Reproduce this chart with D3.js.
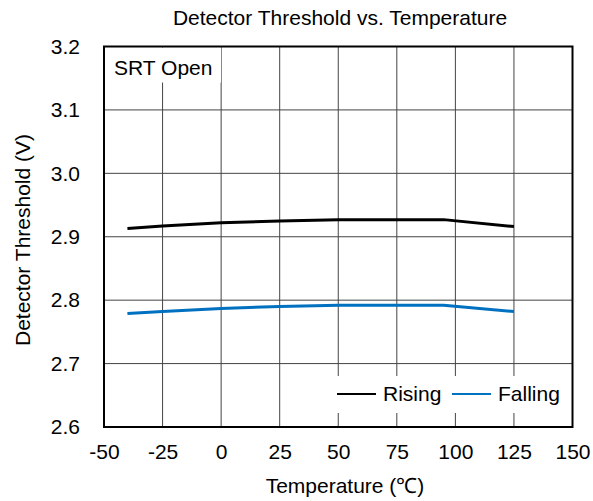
<!DOCTYPE html>
<html>
<head>
<meta charset="utf-8">
<script src="https://cdn.jsdelivr.net/npm/d3@7"></script>
<style>
  body { margin: 0; background: #fff; }
  text { font-family: "Liberation Sans", Arial, sans-serif; fill: #000; }
</style>
</head>
<body>
<svg id="chart" width="593" height="501"></svg>
<script>
const width = 593;
const height = 501;
const margin = { top: 46.5, right: 20.5, bottom: 74, left: 104 };
const fontSize = "21px";

// data
const temps = [-40, -25, 0, 25, 50, 75, 95, 125];
const rising = [2.913, 2.917, 2.922, 2.925, 2.927, 2.927, 2.927, 2.916];
const falling = [2.779, 2.782, 2.787, 2.790, 2.792, 2.792, 2.792, 2.782];
const xTicks = [-50, -25, 0, 25, 50, 75, 100, 125, 150];
const yTicks = [2.6, 2.7, 2.8, 2.9, 3.0, 3.1, 3.2];
const seriesNames = ["Rising", "Falling"];
const seriesColors = ["#000000", "#0070c0"];

const svg = d3.select("#chart");
const innerW = width - margin.left - margin.right;
const innerH = height - margin.top - margin.bottom;

const x = d3.scaleLinear().domain([-50, 150]).range([margin.left, margin.left + innerW]);
const y = d3.scaleLinear().domain([2.6, 3.2]).range([margin.top + innerH, margin.top]);

// grid
svg.append("g")
  .selectAll("line")
  .data(xTicks.slice(1, -1))
  .join("line")
    .attr("x1", d => x(d)).attr("x2", d => x(d))
    .attr("y1", y(2.6)).attr("y2", y(3.2))
    .attr("stroke", "#444").attr("stroke-width", 1);

svg.append("g")
  .selectAll("line")
  .data(yTicks.slice(1, -1))
  .join("line")
    .attr("x1", x(-50)).attr("x2", x(150))
    .attr("y1", d => y(d)).attr("y2", d => y(d))
    .attr("stroke", "#444").attr("stroke-width", 1);

// white boxes behind the annotation and the legend
svg.append("rect")
  .attr("x", x(-50) + 1).attr("y", y(3.2) + 1)
  .attr("width", 116).attr("height", 35)
  .attr("fill", "#fff");

svg.append("rect")
  .attr("x", 330).attr("y", 376)
  .attr("width", x(150) - 331).attr("height", 37)
  .attr("fill", "#fff");

// lines
const line = d3.line()
  .x((d, i) => x(temps[i]))
  .y(d => y(d));

[rising, falling].forEach((s, i) => {
  svg.append("path")
    .datum(s)
    .attr("d", line)
    .attr("fill", "none")
    .attr("stroke", seriesColors[i])
    .attr("stroke-width", 3);
});

// frame
svg.append("rect")
  .attr("x", x(-50)).attr("y", y(3.2))
  .attr("width", innerW).attr("height", innerH)
  .attr("fill", "none")
  .attr("stroke", "#000")
  .attr("stroke-width", 2);

// axes
const xAxis = svg.append("g")
  .attr("transform", `translate(0, ${y(2.6)})`)
  .call(d3.axisBottom(x).tickValues(xTicks).tickSize(0).tickPadding(17).tickFormat(d => String(d)));
xAxis.select(".domain").remove();
xAxis.selectAll("text").attr("dy", null).attr("y", 32)
  .style("font-size", fontSize).style("font-family", "Liberation Sans, Arial, sans-serif");

const yAxis = svg.append("g")
  .attr("transform", `translate(${x(-50)}, 0)`)
  .call(d3.axisLeft(y).tickValues(yTicks).tickSize(0).tickPadding(24).tickFormat(d3.format(".1f")));
yAxis.select(".domain").remove();
yAxis.selectAll("text").style("font-size", fontSize).style("font-family", "Liberation Sans, Arial, sans-serif");

// title and labels
svg.append("text")
  .attr("x", 340).attr("y", 25)
  .attr("text-anchor", "middle")
  .style("font-size", fontSize)
  .text("Detector Threshold vs. Temperature");

svg.append("text")
  .attr("x", 345).attr("y", 493)
  .attr("text-anchor", "middle")
  .style("font-size", fontSize)
  .text("Temperature (\u2103)");

svg.append("text")
  .attr("transform", "rotate(-90)")
  .attr("x", -240).attr("y", 30)
  .attr("text-anchor", "middle")
  .style("font-size", fontSize)
  .text("Detector Threshold (V)");

svg.append("text")
  .attr("x", 114).attr("y", 75)
  .style("font-size", fontSize)
  .text("SRT Open");

// legend
const legendX = [337, 452];
seriesNames.forEach((name, i) => {
  svg.append("line")
    .attr("x1", legendX[i]).attr("x2", legendX[i] + 39)
    .attr("y1", 394).attr("y2", 394)
    .attr("stroke", seriesColors[i])
    .attr("stroke-width", 2);
  svg.append("text")
    .attr("x", legendX[i] + 46).attr("y", 401)
    .style("font-size", fontSize)
    .text(name);
});
</script>
</body>
</html>
